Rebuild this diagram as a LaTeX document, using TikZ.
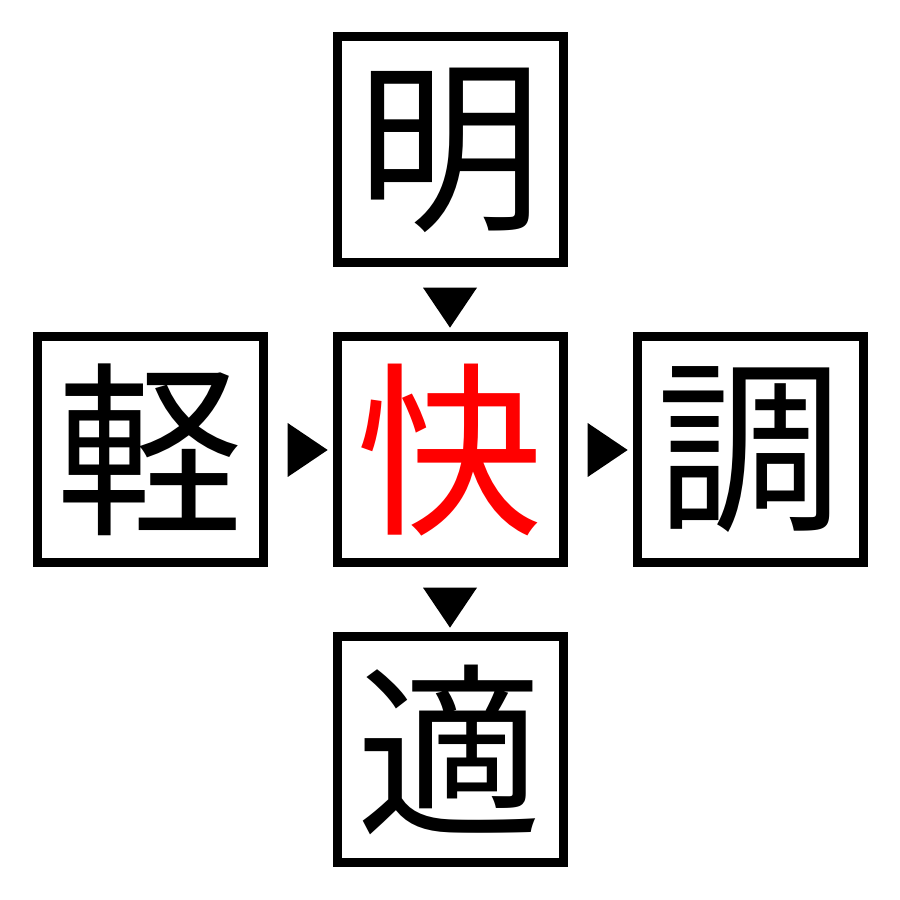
\documentclass[tikz,border=0pt]{standalone}
\usepackage{fontspec}
\newfontfamily\cjk{Noto Sans CJK JP}
\usetikzlibrary{positioning,shapes.geometric,calc}

\tikzset{
  kanji/.style={shape=rectangle, draw=black, line width=0.09cm, minimum size=2.26cm,
    inner sep=0pt, font=\cjk\fontsize{53}{53}\selectfont},
  marker/.style={shape=isosceles triangle, fill=black, draw=none, inner sep=0pt,
    isosceles triangle apex angle=68, minimum height=0.40cm, minimum width=0.54cm,
    isosceles triangle stretches}
}

\begin{document}
\begin{tikzpicture}[on grid, node distance=3cm]
			\useasboundingbox (0,0) rectangle (9,9);
			\node[kanji, text=red] (kai) at (4.5,4.5) {快};
			\node[kanji] (mei) [above=of kai] {明};
			\node[kanji] (kei) [left=of kai] {軽};
			\node[kanji] (cho) [right=of kai] {調};
			\node[kanji] (teki) [below=of kai] {適};
			
			\node[marker, shape border rotate=270] (m1) at ($(mei)!0.5!(kai)+(0,-0.02)$) {};
			\node[marker, shape border rotate=0] (m2) at ($(kei)!0.5!(kai)+(0.02,0)$) {};
			\node[marker, shape border rotate=0] (m3) at ($(kai)!0.5!(cho)+(0.02,0)$) {};
			\node[marker, shape border rotate=270] (m4) at ($(kai)!0.5!(teki)+(0,-0.02)$) {};
		\end{tikzpicture}
\end{document}
